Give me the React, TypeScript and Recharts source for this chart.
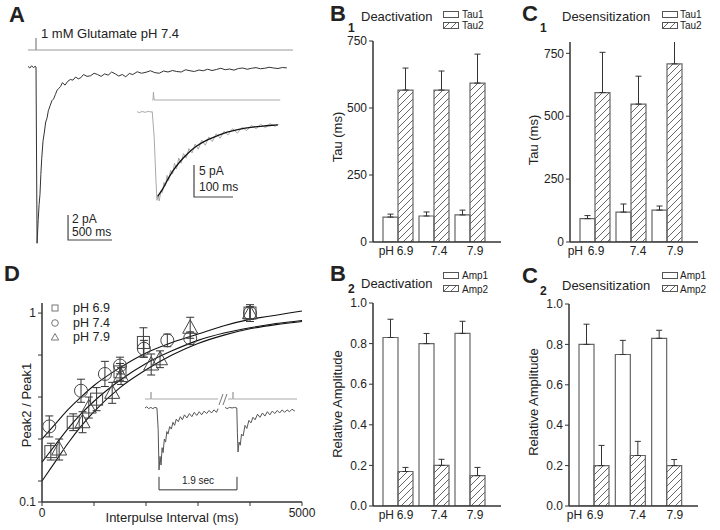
import React from "react";
import {
  BarChart,
  Bar,
  ErrorBar,
  XAxis,
  YAxis,
  LineChart,
  Line,
  ComposedChart,
  Scatter,
} from "recharts";

const FONT = '"Liberation Sans", Arial, Helvetica, sans-serif';
const INK = "#222";

// ---------- B / C : bar panels ----------
const phLevels = ["6.9", "7.4", "7.9"];

const deactTau1 = [93, 97, 101];
const deactTau1Err = [11, 15, 18];
const deactTau2 = [567, 567, 593];
const deactTau2Err = [82, 71, 108];

const desensTau1 = [93, 119, 127];
const desensTau1Err = [12, 32, 16];
const desensTau2 = [594, 548, 708];
const desensTau2Err = [160, 111, 110];

const deactAmp1 = [0.83, 0.8, 0.85];
const deactAmp1Err = [0.09, 0.05, 0.06];
const deactAmp2 = [0.17, 0.2, 0.15];
const deactAmp2Err = [0.02, 0.03, 0.04];

const desensAmp1 = [0.8, 0.75, 0.83];
const desensAmp1Err = [0.1, 0.07, 0.04];
const desensAmp2 = [0.2, 0.25, 0.2];
const desensAmp2Err = [0.1, 0.07, 0.03];

const tauTicks = [0, 250, 500, 750];
const ampTicks = [0, 0.2, 0.4, 0.6, 0.8, 1.0];

// ---------- D : paired pulse recovery ----------
const ipiPH69 = [170, 600, 1050, 1500, 1950, 4000];
const ratioPH69 = [0.34, 0.48, 0.59, 0.72, 0.86, 1.0];
const errPH69 = [0.04, 0.04, 0.055, 0.04, 0.07, 0.04];

const ipiPH74 = [140, 750, 1210, 1500, 1960, 2410, 2850, 4000];
const ratioPH74 = [0.46, 0.63, 0.71, 0.75, 0.83, 0.87, 0.88, 1.0];
const errPH74 = [0.05, 0.055, 0.06, 0.04, 0.04, 0.03, 0.03, 0.03];

const ipiPH79 = [330, 780, 900, 1350, 1520, 2100, 2270, 2850, 4000];
const ratioPH79 = [0.35, 0.48, 0.55, 0.62, 0.7, 0.755, 0.78, 0.93, 1.0];
const errPH79 = [0.05, 0.05, 0.05, 0.05, 0.04, 0.05, 0.04, 0.05, 0.03];

const fitT = [0, 250, 500, 750, 1000, 1500, 2000, 2500, 3000, 3500, 4000, 4500, 5000];
const fitPH74 = [0.4, 0.47, 0.54, 0.6, 0.655, 0.74, 0.81, 0.86, 0.9, 0.94, 0.97, 0.99, 1.01];
const fitPH69 = [0.29, 0.37, 0.45, 0.52, 0.58, 0.68, 0.76, 0.82, 0.87, 0.905, 0.93, 0.95, 0.965];
const fitPH79 = [0.2, 0.29, 0.38, 0.46, 0.53, 0.645, 0.73, 0.8, 0.855, 0.895, 0.925, 0.945, 0.96];

const ipiTicks = [0, 1000, 2000, 3000, 4000, 5000];
const ratioTicks = [0.1, 0.2, 0.4, 0.6, 0.8, 1];

// D inset: two responses 1.9 s apart (ms, fraction of first peak)
const ppT1 = [-341, -300, -250, -200, -150, -100, -50, -20, 0, 25, 50, 75, 100, 130, 160, 190, 220, 260, 300, 340, 380, 420, 470, 520, 570, 620, 680, 740, 800, 860, 920, 980, 1040, 1100, 1160, 1220, 1280, 1340, 1400, 1440];
const ppI1 = [0, 0.02, -0.01, 0.01, -0.01, 0.01, 0, -0.35, -1.0, -0.78, -0.92, -0.64, -0.72, -0.5, -0.55, -0.38, -0.42, -0.3, -0.34, -0.23, -0.28, -0.18, -0.22, -0.14, -0.19, -0.11, -0.16, -0.09, -0.14, -0.07, -0.12, -0.06, -0.11, -0.05, -0.09, -0.04, -0.08, -0.03, -0.07, -0.01];
const ppT2 = [1610, 1660, 1720, 1780, 1840, 1895, 1910, 1925, 1950, 1980, 2010, 2050, 2095, 2140, 2190, 2240, 2290, 2340, 2400, 2460, 2520, 2580, 2640, 2700, 2760, 2820, 2880, 2940, 3000, 3060, 3120, 3180, 3240, 3310];
const ppI2 = [0.01, -0.01, 0.01, 0, 0.01, 0, -0.4, -0.71, -0.55, -0.6, -0.42, -0.45, -0.28, -0.33, -0.2, -0.24, -0.15, -0.19, -0.1, -0.15, -0.08, -0.13, -0.06, -0.11, -0.05, -0.09, -0.04, -0.08, -0.03, -0.07, -0.03, -0.06, -0.02, -0.05];
const ppStimT1 = [-341, -200, -195, -190, 1437];
const ppStimT2 = [1681, 1798, 1803, 1808, 3362];
const ppStimI = [0.145, 0.145, 0.258, 0.145, 0.145];
const ppBreakT1 = [1462, 1559];
const ppBreakT2 = [1559, 1656];
const ppBreakI = [0.048, 0.226];
const ppBracketT = [0, 0, 1900, 1900];
const ppBracketI = [-1.11, -1.32, -1.32, -1.11];

// ---------- A : glutamate response (ms, pA) ----------
const mainT = [-91, -70, -50, -30, -10, 0, 12, 25, 35, 45, 55, 65, 80, 95, 110, 125, 140, 160, 180, 200, 220, 240, 260, 280, 300, 330, 360, 390, 420, 450, 480, 510, 540, 580, 620, 660, 700, 740, 780, 820, 860, 900, 940, 980, 1020, 1060, 1100, 1150, 1200, 1250, 1300, 1350, 1400, 1450, 1500, 1550, 1600, 1650, 1700, 1750, 1800, 1850, 1900, 1950, 2000, 2050, 2100, 2150, 2200, 2250, 2300, 2350, 2400, 2450, 2500, 2550, 2600, 2650, 2700, 2750, 2800, 2850];
const mainI = [0.05, -0.08, 0.1, -0.05, 0.06, 0, -14.1, -12.2, -11.0, -10.2, -8.6, -7.3, -5.9, -5.2, -4.4, -4.1, -3.5, -3.1, -2.7, -2.55, -2.2, -1.85, -1.7, -1.55, -1.25, -1.45, -1.15, -1.0, -1.05, -0.8, -0.95, -0.85, -0.6, -0.75, -0.7, -0.5, -0.6, -0.75, -0.55, -0.65, -0.4, -0.55, -0.72, -0.6, -0.78, -0.52, -0.6, -0.38, -0.5, -0.42, -0.3, -0.45, -0.5, -0.32, -0.4, -0.28, -0.36, -0.4, -0.22, -0.3, -0.36, -0.24, -0.3, -0.18, -0.28, -0.2, -0.1, -0.22, -0.16, -0.25, -0.12, -0.08, -0.18, -0.1, -0.05, -0.14, -0.1, -0.02, -0.08, -0.12, -0.04, -0.07];
const mainStimT = [-91, 0, 0, 0, 2920];
const mainStimI = [1.36, 1.36, 2.32, 1.36, 1.36];
const mainBarT = [364, 364, 864];
const mainBarI = [-11.84, -13.84, -13.84];

const insetT = [-41, -35, -28, -20, -12, -5, -2, 3, 7, 10, 13, 16, 20, 24, 28, 32, 36, 40, 45, 50, 55, 60, 66, 72, 78, 85, 92, 100, 108, 116, 125, 134, 143, 152, 162, 172, 182, 192, 204, 216, 228, 240, 252, 264, 276, 288, 300, 312, 322];
const insetI = [0.05, -0.1, 0.08, -0.05, 0.1, 0, 0.05, -4, -10, -13.8, -13.0, -13.9, -12.4, -12.6, -11.0, -11.5, -9.9, -10.7, -9.1, -9.7, -8.0, -8.9, -7.2, -8.0, -6.5, -7.2, -5.7, -6.4, -5.0, -5.8, -4.4, -5.2, -3.9, -4.6, -3.4, -4.1, -3.0, -3.6, -2.6, -3.3, -2.4, -2.9, -2.1, -2.6, -1.9, -2.45, -1.8, -2.25, -1.9];
const insetFitT = [12, 26, 40, 51, 70, 87, 110, 138, 165, 190, 220, 256, 290, 320];
const insetFitI = [-13.2, -11.9, -10.3, -9.2, -7.7, -6.6, -5.4, -4.4, -3.7, -3.15, -2.7, -2.35, -2.15, -2.0];
const insetStimT = [-2, 0, 1, 3, 326];
const insetStimI = [1.875, 1.875, 3.1, 1.875, 1.875];
const insetBarT = [105, 105, 205];
const insetBarI = [-8.28, -13.28, -13.28];

const pts = (t: number[], v: number[]) => t.map((x, i) => ({ t: x, v: v[i] }));
const withErr = (t: number[], v: number[], e: number[]) =>
  t.map((x, i) => ({ t: x, v: v[i], e: e[i] }));

function Txt({
  x,
  y,
  size = 12,
  bold = false,
  anchor = "start",
  rotate = false,
  children,
}: {
  x: number;
  y: number;
  size?: number;
  bold?: boolean;
  anchor?: "start" | "middle" | "end";
  rotate?: boolean;
  children: React.ReactNode;
}) {
  const tx = anchor === "middle" ? "-50%" : anchor === "end" ? "-100%" : "0";
  return (
    <div
      style={{
        position: "absolute",
        left: x,
        top: y,
        fontSize: size,
        fontWeight: bold ? 700 : 400,
        lineHeight: 1,
        whiteSpace: "nowrap",
        transform: rotate
          ? "translate(-50%, -50%) rotate(-90deg)"
          : `translate(${tx}, -50%)`,
      }}
    >
      {children}
    </div>
  );
}

function Hatch({ id }: { id: string }) {
  return (
    <pattern id={id} patternUnits="userSpaceOnUse" width={7} height={7}>
      <path d="M0,7 L7,0 M-1,1 L1,-1 M6,8 L8,6" stroke="#555" strokeWidth={0.9} />
    </pattern>
  );
}

function LegendBox({ x, y, hatch }: { x: number; y: number; hatch?: boolean }) {
  const id = `lg-${x}-${y}`;
  return (
    <svg style={{ position: "absolute", left: x, top: y }} width={16} height={8}>
      <defs>
        <Hatch id={id} />
      </defs>
      <rect x={0.5} y={0.5} width={15} height={6} fill={hatch ? `url(#${id})` : "#fff"} stroke="#555" />
    </svg>
  );
}

function BarPanel({
  id,
  left,
  top,
  width,
  height,
  margin,
  yWidth,
  domain,
  ticks,
  fmt,
  a,
  aErr,
  b,
  bErr,
  dxs,
  phOff,
}: {
  id: string;
  left: number;
  top: number;
  width: number;
  height: number;
  margin: { top: number; right: number; bottom: number; left: number };
  yWidth: number;
  domain: [number, number];
  ticks: number[];
  fmt: (v: number) => string;
  a: number[];
  aErr: number[];
  b: number[];
  bErr: number[];
  dxs: number[];
  phOff: number;
}) {
  const rows = phLevels.map((ph, i) => ({
    ph,
    a: a[i],
    ae: [0, aErr[i]],
    b: b[i],
    be: [0, bErr[i]],
  }));
  const tick = (p: any) => (
    <g>
      <text x={p.x + dxs[p.index]} y={p.y} dy="0.71em" textAnchor="middle" fontSize={12} fill={INK}>
        {p.payload.value}
      </text>
      {p.index === 0 && (
        <text x={p.x + phOff} y={p.y} dy="0.71em" textAnchor="end" fontSize={12} fill={INK}>
          pH
        </text>
      )}
    </g>
  );
  return (
    <div style={{ position: "absolute", left, top }}>
      <BarChart
        width={width}
        height={height}
        data={rows}
        margin={margin}
        barGap={0}
        barSize={15}
        style={{ fontFamily: FONT }}
      >
        <defs>
          <Hatch id={id} />
        </defs>
        <XAxis
          dataKey="ph"
          padding={{ left: 7, right: 13 }}
          height={20}
          tickLine={false}
          tickSize={0}
          tickMargin={4}
          axisLine={{ stroke: "#333", strokeWidth: 1.5 }}
          tick={tick}
        />
        <YAxis
          width={yWidth}
          domain={domain}
          ticks={ticks}
          allowDataOverflow
          tickFormatter={fmt}
          tickSize={4}
          tickMargin={2}
          axisLine={{ stroke: "#333", strokeWidth: 1.5 }}
          tickLine={{ stroke: "#333" }}
          tick={{ fontSize: 12, fill: INK }}
        />
        <Bar dataKey="a" fill="#fff" stroke="#666" strokeWidth={1.2} isAnimationActive={false}>
          <ErrorBar dataKey="ae" width={3} stroke="#333" strokeWidth={1} direction="y" />
        </Bar>
        <Bar dataKey="b" fill={`url(#${id})`} stroke="#666" strokeWidth={1.2} isAnimationActive={false}>
          <ErrorBar dataKey="be" width={3} stroke="#333" strokeWidth={1} direction="y" />
        </Bar>
      </BarChart>
    </div>
  );
}

type Series = { rows: { t: number; v: number }[]; stroke: string; w: number; smooth?: boolean };

function TraceChart({
  left,
  top,
  width,
  height,
  xDomain,
  yDomain,
  series,
}: {
  left: number;
  top: number;
  width: number;
  height: number;
  xDomain: [number, number];
  yDomain: [number, number];
  series: Series[];
}) {
  return (
    <div style={{ position: "absolute", left, top }}>
      <LineChart width={width} height={height} margin={{ top: 0, right: 0, bottom: 0, left: 0 }}>
        <XAxis type="number" dataKey="t" domain={xDomain} hide allowDataOverflow />
        <YAxis type="number" domain={yDomain} hide allowDataOverflow />
        {series.map((s, i) => (
          <Line
            key={i}
            data={s.rows}
            dataKey="v"
            type={s.smooth ? "monotone" : "linear"}
            stroke={s.stroke}
            strokeWidth={s.w}
            dot={false}
            isAnimationActive={false}
          />
        ))}
      </LineChart>
    </div>
  );
}

const squareShape = (p: any) => (
  <rect x={p.cx - 6} y={p.cy - 6} width={12} height={12} fill="none" stroke="#444" strokeWidth={1} />
);
const circleShape = (p: any) => (
  <circle cx={p.cx} cy={p.cy} r={6.5} fill="none" stroke="#444" strokeWidth={1} />
);
const triangleShape = (p: any) => (
  <polygon
    points={`${p.cx},${p.cy - 8} ${p.cx - 7.5},${p.cy + 5.5} ${p.cx + 7.5},${p.cy + 5.5}`}
    fill="none"
    stroke="#444"
    strokeWidth={1}
  />
);

function RecoveryPanel() {
  return (
    <div style={{ position: "absolute", left: 0, top: 262 }}>
      <ComposedChart
        width={320}
        height={268}
        margin={{ top: 41, right: 18, bottom: 0, left: 0 }}
        style={{ fontFamily: FONT }}
      >
        <XAxis
          type="number"
          dataKey="t"
          domain={[0, 5000]}
          ticks={ipiTicks}
          tickFormatter={(v: number) => (v === 0 || v === 5000 ? String(v) : "")}
          height={28}
          tickSize={4}
          tickMargin={2}
          axisLine={{ stroke: "#333", strokeWidth: 1.5 }}
          tickLine={{ stroke: "#333" }}
          tick={{ fontSize: 12, fill: INK }}
        />
        <YAxis
          type="number"
          dataKey="v"
          width={42}
          domain={[0.1, 1.048]}
          allowDataOverflow
          ticks={ratioTicks}
          tickFormatter={(v: number) => (v === 0.1 || v === 1 ? String(v) : "")}
          tickSize={4}
          tickMargin={2}
          axisLine={{ stroke: "#333", strokeWidth: 1.5 }}
          tickLine={{ stroke: "#333" }}
          tick={{ fontSize: 12, fill: INK }}
        />
        <Line data={pts(fitT, fitPH74)} dataKey="v" type="monotone" stroke="#111" strokeWidth={1.1} dot={false} isAnimationActive={false} />
        <Line data={pts(fitT, fitPH69)} dataKey="v" type="monotone" stroke="#111" strokeWidth={1.1} dot={false} isAnimationActive={false} />
        <Line data={pts(fitT, fitPH79)} dataKey="v" type="monotone" stroke="#111" strokeWidth={1.1} dot={false} isAnimationActive={false} />
        <Scatter data={withErr(ipiPH69, ratioPH69, errPH69)} shape={squareShape} isAnimationActive={false}>
          <ErrorBar dataKey="e" direction="y" width={4} stroke="#333" strokeWidth={1} />
        </Scatter>
        <Scatter data={withErr(ipiPH74, ratioPH74, errPH74)} shape={circleShape} isAnimationActive={false}>
          <ErrorBar dataKey="e" direction="y" width={4} stroke="#333" strokeWidth={1} />
        </Scatter>
        <Scatter data={withErr(ipiPH79, ratioPH79, errPH79)} shape={triangleShape} isAnimationActive={false}>
          <ErrorBar dataKey="e" direction="y" width={4} stroke="#333" strokeWidth={1} />
        </Scatter>
      </ComposedChart>
    </div>
  );
}

function MiniMarker({ kind, x, y }: { kind: "s" | "c" | "t"; x: number; y: number }) {
  return (
    <svg style={{ position: "absolute", left: x - 5, top: y - 5 }} width={10} height={10}>
      {kind === "s" && <rect x={2} y={2} width={6} height={6} fill="none" stroke="#777" />}
      {kind === "c" && <circle cx={5} cy={5} r={3.3} fill="none" stroke="#777" />}
      {kind === "t" && <polygon points="5,1.5 1.3,8 8.7,8" fill="none" stroke="#777" />}
    </svg>
  );
}

export default function App() {
  return (
    <div
      style={{
        position: "absolute",
        left: 0,
        top: 0,
        width: 720,
        height: 530,
        background: "#fff",
        fontFamily: FONT,
        color: INK,
        overflow: "hidden",
      }}
    >
      {/* A */}
      <TraceChart
        left={20}
        top={20}
        width={280}
        height={240}
        xDomain={[-182, 3000]}
        yDomain={[-15.44, 3.76]}
        series={[
          { rows: pts(mainStimT, mainStimI), stroke: "#999", w: 1 },
          { rows: pts(mainT, mainI), stroke: "#333", w: 1 },
          { rows: pts(mainBarT, mainBarI), stroke: "#444", w: 1.2 },
        ]}
      />
      <TraceChart
        left={130}
        top={85}
        width={160}
        height={120}
        xDomain={[-59, 351]}
        yDomain={[-14.53, 4.22]}
        series={[
          { rows: pts(insetStimT, insetStimI), stroke: "#aaa", w: 1 },
          { rows: pts(insetT, insetI), stroke: "#aaa", w: 1 },
          { rows: pts(insetFitT, insetFitI), stroke: "#111", w: 1.3, smooth: true },
          { rows: pts(insetBarT, insetBarI), stroke: "#444", w: 1.2 },
        ]}
      />
      <Txt x={9} y={15} size={22} bold>A</Txt>
      <Txt x={41} y={33} size={13}>1 mM Glutamate pH 7.4</Txt>
      <Txt x={72} y={219}>2 pA</Txt>
      <Txt x={72} y={232}>500 ms</Txt>
      <Txt x={199} y={171}>5 pA</Txt>
      <Txt x={199} y={187}>100 ms</Txt>

      {/* B1 */}
      <BarPanel
        id="hatch-b1"
        left={330}
        top={0}
        width={180}
        height={262}
        margin={{ top: 41, right: 9, bottom: 0, left: 0 }}
        yWidth={43}
        domain={[0, 750]}
        ticks={tauTicks}
        fmt={(v) => String(v)}
        a={deactTau1}
        aErr={deactTau1Err}
        b={deactTau2}
        bErr={deactTau2Err}
        dxs={[7, 5, 5]}
        phOff={-4}
      />
      <Txt x={330} y={14} size={22} bold>B</Txt>
      <Txt x={348} y={28} size={12} bold>1</Txt>
      <Txt x={361} y={16} size={13}>Deactivation</Txt>
      <LegendBox x={443} y={11} />
      <LegendBox x={443} y={22} hatch />
      <Txt x={462} y={15} size={10}>Tau1</Txt>
      <Txt x={462} y={26} size={10}>Tau2</Txt>
      <Txt x={337} y={137} size={13} rotate>Tau (ms)</Txt>

      {/* C1: chart starts at the plot top so an overflowing error bar is cut */}
      <BarPanel
        id="hatch-c1"
        left={520}
        top={42}
        width={190}
        height={220}
        margin={{ top: 0, right: 12, bottom: 0, left: 0 }}
        yWidth={50}
        domain={[0, 795]}
        ticks={tauTicks}
        fmt={(v) => String(v)}
        a={desensTau1}
        aErr={desensTau1Err}
        b={desensTau2}
        bErr={desensTau2Err}
        dxs={[1, 7, 8]}
        phOff={-12}
      />
      <Txt x={522} y={14} size={22} bold>C</Txt>
      <Txt x={540} y={28} size={12} bold>1</Txt>
      <Txt x={562} y={16} size={13}>Desensitization</Txt>
      <LegendBox x={662} y={11} />
      <LegendBox x={662} y={22} hatch />
      <Txt x={680} y={15} size={10}>Tau1</Txt>
      <Txt x={680} y={26} size={10}>Tau2</Txt>
      <Txt x={533} y={140} size={13} rotate>Tau (ms)</Txt>

      {/* B2 */}
      <BarPanel
        id="hatch-b2"
        left={330}
        top={262}
        width={180}
        height={268}
        margin={{ top: 41, right: 9, bottom: 4, left: 0 }}
        yWidth={43}
        domain={[0, 1]}
        ticks={ampTicks}
        fmt={(v) => v.toFixed(1)}
        a={deactAmp1}
        aErr={deactAmp1Err}
        b={deactAmp2}
        bErr={deactAmp2Err}
        dxs={[7, 5, 5]}
        phOff={-4}
      />
      <Txt x={330} y={274} size={22} bold>B</Txt>
      <Txt x={348} y={289} size={12} bold>2</Txt>
      <Txt x={361} y={283} size={13}>Deactivation</Txt>
      <LegendBox x={443} y={272} />
      <LegendBox x={443} y={285} hatch />
      <Txt x={462} y={276} size={10}>Amp1</Txt>
      <Txt x={462} y={290} size={10}>Amp2</Txt>
      <Txt x={337} y={404} size={13} rotate>Relative Amplitude</Txt>

      {/* C2 */}
      <BarPanel
        id="hatch-c2"
        left={520}
        top={262}
        width={190}
        height={268}
        margin={{ top: 42, right: 12, bottom: 4, left: 0 }}
        yWidth={49}
        domain={[0, 1]}
        ticks={ampTicks}
        fmt={(v) => v.toFixed(1)}
        a={desensAmp1}
        aErr={desensAmp1Err}
        b={desensAmp2}
        bErr={desensAmp2Err}
        dxs={[1, 7, 8]}
        phOff={-12}
      />
      <Txt x={522} y={276} size={22} bold>C</Txt>
      <Txt x={540} y={291} size={12} bold>2</Txt>
      <Txt x={562} y={285} size={13}>Desensitization</Txt>
      <LegendBox x={662} y={272} />
      <LegendBox x={662} y={285} hatch />
      <Txt x={680} y={276} size={10}>Amp1</Txt>
      <Txt x={680} y={290} size={10}>Amp2</Txt>
      <Txt x={533} y={402} size={13} rotate>Relative Amplitude</Txt>

      {/* D */}
      <RecoveryPanel />
      <TraceChart
        left={140}
        top={385}
        width={160}
        height={110}
        xDomain={[-463, 3435]}
        yDomain={[-1.403, 0.371]}
        series={[
          { rows: pts(ppStimT1, ppStimI), stroke: "#aaa", w: 1 },
          { rows: pts(ppStimT2, ppStimI), stroke: "#aaa", w: 1 },
          { rows: pts(ppBreakT1, ppBreakI), stroke: "#777", w: 1 },
          { rows: pts(ppBreakT2, ppBreakI), stroke: "#777", w: 1 },
          { rows: pts(ppT1, ppI1), stroke: "#555", w: 1 },
          { rows: pts(ppT2, ppI2), stroke: "#555", w: 1 },
          { rows: pts(ppBracketT, ppBracketI), stroke: "#333", w: 1 },
        ]}
      />
      <Txt x={198} y={481} size={10} anchor="middle">1.9 sec</Txt>
      <Txt x={4} y={274} size={22} bold>D</Txt>
      <MiniMarker kind="s" x={55} y={308} />
      <MiniMarker kind="c" x={55} y={323} />
      <MiniMarker kind="t" x={55} y={337} />
      <Txt x={73} y={308} size={12.5}>pH 6.9</Txt>
      <Txt x={73} y={323} size={12.5}>pH 7.4</Txt>
      <Txt x={73} y={337} size={12.5}>pH 7.9</Txt>
      <Txt x={26} y={405} size={13} rotate>Peak2 / Peak1</Txt>
      <Txt x={172} y={517} size={13} anchor="middle">Interpulse Interval (ms)</Txt>
    </div>
  );
}
